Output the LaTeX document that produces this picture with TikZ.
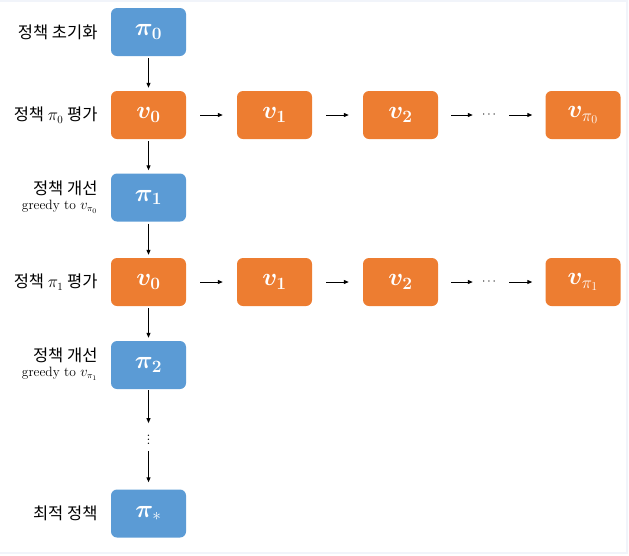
\documentclass[tikz,border=0pt]{standalone}
\usepackage{fontspec}
\usepackage{amsmath}
\usepackage{bm}
\usepackage{tikz}
\usetikzlibrary{arrows.meta, positioning}
\newfontfamily\krfont{Noto Sans CJK KR}
\definecolor{polblue}{HTML}{5B9BD5}
\definecolor{valorange}{HTML}{ED7D31}
\definecolor{framegray}{HTML}{F1F4FA}

\begin{document}
\begin{tikzpicture}[
    x=1pt, y=-1pt,
    pol/.style={rectangle, rounded corners=6pt, fill=polblue, minimum width=75pt, minimum height=48pt, text=white, font=\fontsize{23}{25}\selectfont},
    val/.style={rectangle, rounded corners=6pt, fill=valorange, minimum width=75pt, minimum height=48pt, text=white, font=\fontsize{23}{25}\selectfont},
    lbl/.style={anchor=east, align=right, font=\krfont\fontsize{16.5}{18}\selectfont},
    arr/.style={-{Triangle[length=5pt, width=4pt]}, line width=1pt}
]
\useasboundingbox (0,0) rectangle (629,555);
\draw[framegray, line width=2pt] (-5,1) -- (627,1) -- (627,553) -- (-5,553);

% Policies
\node[pol] (p0) at (148.5,32) {$\bm{\pi}_{\bm{0}}$};
\node[pol] (p1) at (148.5,197.5) {$\bm{\pi}_{\bm{1}}$};
\node[pol] (p2) at (148.5,365) {$\bm{\pi}_{\bm{2}}$};
\node[pol] (pstar) at (148.5,513.5) {$\bm{\pi}_{*}$};

% Evaluation of pi_0
\node[val] (a0) at (148.5,115) {$\bm{v}_{\bm{0}}$};
\node[val] (a1) at (274.5,115) {$\bm{v}_{\bm{1}}$};
\node[val] (a2) at (400.5,115) {$\bm{v}_{\bm{2}}$};
\node[inner sep=0pt, font=\large] (adots) at (490,115) {$\cdots$};
\node[val] (aend) at (583,115) {$\bm{v}_{\pi_0}$};

% Evaluation of pi_1
\node[val] (b0) at (148.5,282) {$\bm{v}_{\bm{0}}$};
\node[val] (b1) at (274.5,282) {$\bm{v}_{\bm{1}}$};
\node[val] (b2) at (400.5,282) {$\bm{v}_{\bm{2}}$};
\node[inner sep=0pt, font=\large] (bdots) at (490,282) {$\cdots$};
\node[val] (bend) at (583,282) {$\bm{v}_{\pi_1}$};

\node[inner sep=0pt, font=\Large] (vdots) at (148.5,437) {$\vdots$};

% Labels
\node[lbl] (l0) at (101,32) {정책 초기화};
\node[lbl] (l1) at (101,115) {정책 {\fontsize{16}{18}\selectfont$\pi_0$} 평가};
\node[lbl] (l2) at (101,197) {정책 개선\\[-3pt]{\normalfont\fontsize{13.5}{15}\selectfont greedy to $v_{\pi_0}$}};
\node[lbl] (l3) at (101,282) {정책 {\fontsize{16}{18}\selectfont$\pi_1$} 평가};
\node[lbl] (l4) at (101,364) {정책 개선\\[-3pt]{\normalfont\fontsize{13.5}{15}\selectfont greedy to $v_{\pi_1}$}};
\node[lbl] (l5) at (101,513.5) {최적 정책};

% Vertical arrows
\draw[arr, shorten <=2pt, shorten >=3pt] (p0) -- (a0);
\draw[arr, shorten <=2pt, shorten >=3pt] (a0) -- (p1);
\draw[arr, shorten <=2pt, shorten >=3pt] (p1) -- (b0);
\draw[arr, shorten <=2pt, shorten >=3pt] (b0) -- (p2);
\draw[arr, shorten <=1pt, shorten >=6pt] (p2) -- (vdots);
\draw[arr, shorten <=6pt, shorten >=7pt] (vdots) -- (pstar);

% Horizontal arrows
\foreach \r in {a,b} {
  \draw[arr, shorten <=14pt, shorten >=14pt] (\r0) -- (\r1);
  \draw[arr, shorten <=14pt, shorten >=14pt] (\r1) -- (\r2);
  \draw[arr, shorten <=13pt, shorten >=9pt] (\r2) -- (\r dots);
  \draw[arr, shorten <=11pt, shorten >=13pt] (\r dots) -- (\r end);
}
\end{tikzpicture}
\end{document}
